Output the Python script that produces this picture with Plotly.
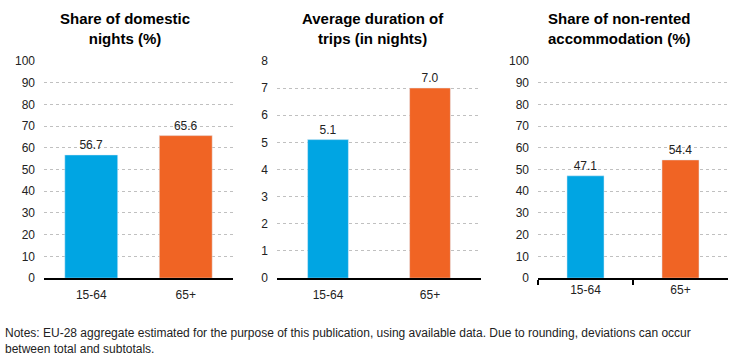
import plotly.graph_objects as go

W, H = 734, 364

categories = ["15-64", "65+"]
domestic_share = [56.7, 65.6]
avg_duration = [5.1, 7.0]
nonrented_share = [47.1, 54.4]
titles = ["Share of domestic<br>nights (%)", "Average duration of<br>trips (in nights)",
          "Share of non-rented<br>accommodation (%)"]
note = ("Notes: EU-28 aggregate estimated for the purpose of this publication, using available data. "
        "Due to rounding, deviations can occur<br>between total and subtotals.")

colors = ["#00a5e3", "#f06424"]
FONT = "Liberation Sans, Arial, sans-serif"

def px_x(p):
    return p / W

def px_y(p):
    return 1 - p / H

panels = [
    dict(values=domestic_share, dom=(44, 233), rng=[0, 100], dtick=10, width=0.56, title_x=125),
    dict(values=avg_duration, dom=(277, 481), rng=[0, 8], dtick=1, width=0.40, title_x=373),
    dict(values=nonrented_share, dom=(538, 728), rng=[0, 100], dtick=10, width=0.39, title_x=619),
]

fig = go.Figure()
ydom = [px_y(282), px_y(56)]
for i, p in enumerate(panels):
    n = "" if i == 0 else str(i + 1)
    has_ticks = i == 2
    fig.add_trace(go.Bar(
        x=categories, y=p["values"], marker_color=colors, width=p["width"],
        text=[f"{v:.1f}" for v in p["values"]], textposition="outside",
        textfont=dict(size=12, color="#222", family=FONT), cliponaxis=False,
        xaxis="x" + n, yaxis="y" + n, showlegend=False, hoverinfo="skip",
    ))
    fig.layout["xaxis" + n] = dict(
        domain=[px_x(p["dom"][0]), px_x(p["dom"][1])], anchor="y" + n,
        showline=True, linecolor="#000", linewidth=1.5, showgrid=False,
        ticks="outside" if has_ticks else "", tickson="boundaries" if has_ticks else "labels",
        ticklen=5, tickcolor="#000", tickwidth=1.5,
        ticklabelstandoff=0 if has_ticks else 5,
        tickfont=dict(size=12, color="#222", family=FONT), fixedrange=True,
    )
    fig.layout["yaxis" + n] = dict(
        domain=ydom, anchor="x" + n, range=p["rng"], dtick=p["dtick"],
        showgrid=True, gridcolor="#c0c0c0", griddash="dot", gridwidth=1,
        zeroline=False, showline=False, ticks="", ticklabelstandoff=8,
        tickfont=dict(size=12, color="#222", family=FONT), fixedrange=True,
    )
    fig.add_annotation(
        text="<b>" + titles[i] + "</b>", x=px_x(p["title_x"]), y=px_y(1),
        xref="paper", yref="paper", xanchor="center", yanchor="top", showarrow=False,
        font=dict(size=15, color="#000", family=FONT), align="center",
    )

fig.add_annotation(
    text=note, x=px_x(3), y=px_y(330), xref="paper", yref="paper",
    xanchor="left", yanchor="top", showarrow=False, align="left",
    font=dict(size=12, color="#222", family=FONT),
)

fig.update_layout(
    width=W, height=H, margin=dict(l=0, r=0, t=0, b=0),
    paper_bgcolor="white", plot_bgcolor="white", bargap=0.4,
)

css = ("var s=document.documentElement.style;s.margin='0';s.padding='0';s.overflow='hidden';"
       "s.height='364px';var b=document.body.style;b.margin='0';b.padding='0';"
       "b.overflow='hidden';b.height='364px';")
fig.write_html("out.html", post_script=css, config={"displayModeBar": False})
